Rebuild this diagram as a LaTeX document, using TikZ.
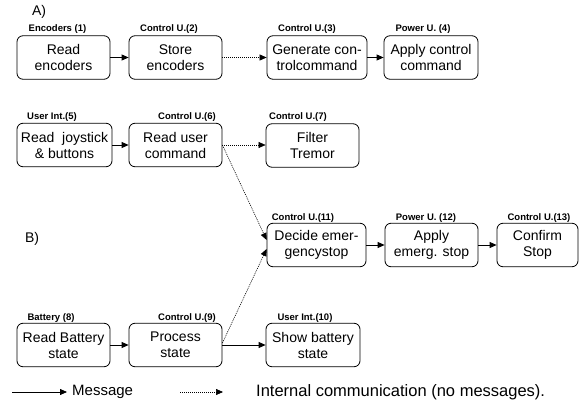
\documentclass[tikz,border=0pt]{standalone}
\usepackage{fontspec}
\setmainfont{Liberation Sans}
\usetikzlibrary{arrows.meta}
\tikzset{
  box/.style={draw, rounded corners=6pt, line width=0.8pt, align=center, inner sep=0pt,
    minimum height=43.5pt, font=\fontsize{14}{16}\selectfont},
  lbl/.style={font=\fontsize{9.5}{11}\selectfont\bfseries, inner sep=0pt},
  txt/.style={font=\fontsize{14}{16}\selectfont, inner sep=0pt},
  msg/.style={line width=0.8pt, -{Triangle[length=7pt,width=6pt]}},
  intl/.style={line width=0.6pt, dash pattern=on 1pt off 1pt, -{Triangle[length=7pt,width=6pt]}}
}
\begin{document}
\begin{tikzpicture}[x=1pt,y=-1pt]
\useasboundingbox (0,0) rectangle (582,406);
% row A
\node[txt] (ta) at (39,12) {A)};
\node[box, minimum width=93pt] (b1) at (63.5,57.5) {Read\\encoders};
\node[box, minimum width=93pt] (b2) at (175.5,57.5) {Store\\encoders};
\node[box, minimum width=100pt] (b3) at (317,57.5) {Generate con-\\trolcommand};
\node[box, minimum width=94pt] (b4) at (431,57.5) {Apply control\\command};
\node[lbl] (l1) at (57.5,29.5) {Encoders (1)};
\node[lbl] (l2) at (169,29.5) {Control U.(2)};
\node[lbl] (l3) at (307,29.5) {Control U.(3)};
\node[lbl] (l4) at (423,29.5) {Power U. (4)};
\draw[msg] (b1) -- (b2);
\draw[intl] (b2) -- (b3);
\draw[msg] (b3) -- (b4);
% row 2
\node[box, minimum width=95pt] (b5) at (64.5,145) {Read~ joystick\\\& buttons};
\node[box, minimum width=93pt] (b6) at (175.5,145) {Read user\\command};
\node[box, minimum width=93pt] (b7) at (312.5,145.5) {Filter\\Tremor};
\node[lbl] (l5) at (52,117.5) {User Int.(5)};
\node[lbl] (l6) at (187,117.5) {Control U.(6)};
\node[lbl] (l7) at (298,117.5) {Control U.(7)};
\draw[msg] (b5) -- (b6);
\draw[intl] (b6.east) -- (b7.west |- b6.east);
% row emergency
\node[txt] (tb) at (32,239) {B)};
\node[box, minimum width=99pt] (b11) at (316.5,245) {Decide emer-\\gencystop};
\node[box, minimum width=93pt] (b12) at (431.5,245) {Apply\\emerg. stop};
\node[box, minimum width=81pt] (b13) at (537.5,245) {Confirm\\Stop};
\node[lbl] (l11) at (303,218.5) {Control U.(11)};
\node[lbl] (l12) at (426,218.5) {Power U. (12)};
\node[lbl] (l13) at (539,218.5) {Control U.(13)};
\draw[msg] (b11) -- (b12);
\draw[msg] (b12) -- (b13);
% row 4
\node[box, minimum width=93pt] (b8) at (63.5,345) {Read Battery\\state};
\node[box, minimum width=93pt] (b9) at (175.5,345) {Process\\state};
\node[box, minimum width=94pt] (b10) at (313,345) {Show battery\\state};
\node[lbl] (l8) at (51,318.5) {Battery (8)};
\node[lbl] (l9) at (187,318.5) {Control U.(9)};
\node[lbl] (l10) at (305,318.5) {User Int.(10)};
\draw[msg] (b8) -- (b9);
\draw[msg] (b9) -- (b10);
% diagonals
\draw[intl] (b6.east) -- ([yshift=5pt]b11.west);
\draw[intl] ([yshift=2pt]b9.east) -- ([yshift=-4pt]b11.west);
% legend
\coordinate (m1) at (12,392);
\coordinate (m2) at (67,392);
\coordinate (d1) at (180,392);
\coordinate (d2) at (223,392);
\draw[msg] (m1) -- (m2);
\node[txt, anchor=west, font=\fontsize{15}{17}\selectfont] (mt) at (72,392) {Message};
\draw[intl] (d1) -- (d2);
\node[txt, anchor=west, font=\fontsize{16.5}{18}\selectfont] (dt) at (256,392) {Internal communication (no messages).};
\end{tikzpicture}
\end{document}
